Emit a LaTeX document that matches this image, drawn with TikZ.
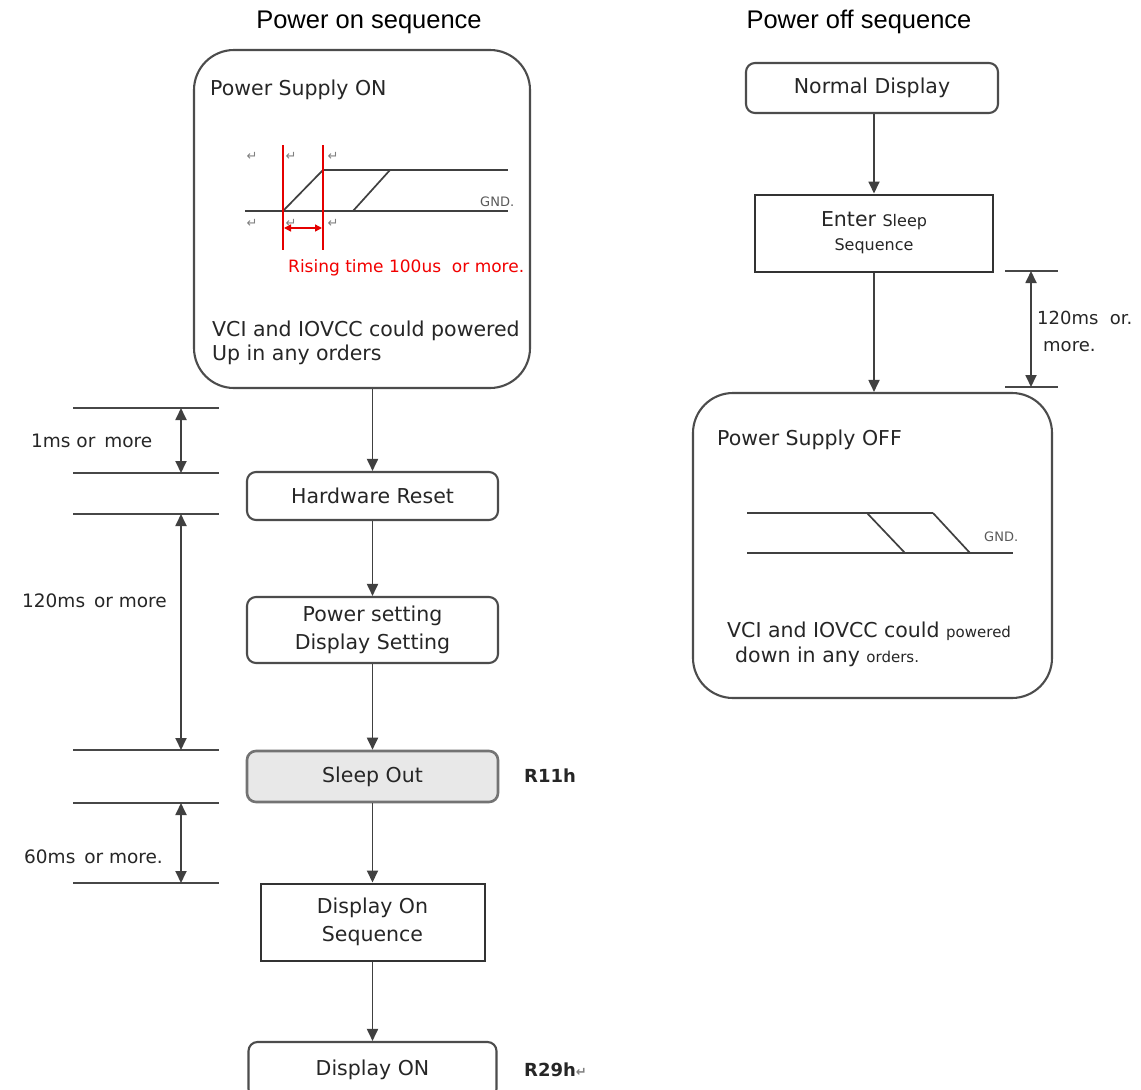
\documentclass[tikz,border=0pt]{standalone}
\usepackage{fontspec}
\setmainfont{DejaVu Sans}
\newfontfamily\titlefont{Liberation Sans}
\usetikzlibrary{arrows.meta}
\newcommand\retmark{{\color{black!50}\fontsize{13}{13}\selectfont ↵}}
\begin{document}
\begin{tikzpicture}[x=1pt,y=-1pt,
  ln/.style={draw=black!72, line width=1.8pt},
  wave/.style={draw=black!75, line width=1.7pt},
  redln/.style={draw=red!90!black, line width=1.6pt},
  box/.style={draw=black!70, line width=2.1pt, rounded corners=9pt, align=center,
    text=black!85, inner sep=0pt, font=\fontsize{20.5}{28}\selectfont},
  sqbox/.style={draw=black!80, line width=2pt, align=center,
    text=black!85, inner sep=0pt, font=\fontsize{20.5}{28}\selectfont},
  bigbox/.style={draw=black!70, line width=2.1pt, rounded corners=40pt, inner sep=0pt},
  arr/.style={draw=black!75, line width=1.8pt, -{Triangle[length=12pt,width=11pt]}},
  dbl/.style={draw=black!75, line width=1.8pt,
    {Triangle[length=12pt,width=11pt]}-{Triangle[length=12pt,width=11pt]}},
  lbl/.style={anchor=west, inner sep=0pt, text=black!85, font=\fontsize{20.5}{24}\selectfont},
  dlbl/.style={anchor=west, inner sep=0pt, text=black!85, font=\fontsize{18.5}{22}\selectfont},
  ttl/.style={inner sep=0pt, text=black, font=\titlefont\fontsize{25.5}{30}\selectfont},
  rlbl/.style={anchor=west, inner sep=0pt, text=black!85, font=\bfseries\fontsize{18}{22}\selectfont},
  gnd/.style={anchor=west, inner sep=0pt, text=black!65, font=\fontsize{13}{15}\selectfont},
  ret/.style={inner sep=0pt}
]
\clip (0,0) rectangle (1141,1090);
\fill[white] (0,0) rectangle (1141,1090);

% titles
\node[ttl] (t1) at (369,22) {Power on sequence};
\node[ttl] (t2) at (859,22) {Power off sequence};

% ---------------- power on ----------------
\node[bigbox, minimum width=336pt, minimum height=338pt] (pson) at (362,219) {};
\node[lbl] (psont) at (210,90) {Power Supply ON};
\draw[wave] (323,170) -- (508,170);
\draw[wave] (245,211) -- (508,211);
\draw[wave] (283,211) -- (323,170);
\draw[wave] (353,211) -- (390,170);
\draw[redln] (283,145) -- (283,250);
\draw[redln] (323,145) -- (323,250);
\draw[redln, line width=1.4pt, {Triangle[length=7pt,width=7pt]}-{Triangle[length=7pt,width=7pt]}] (284,228) -- (322,228);
\node[gnd] (gnd1) at (480,202) {GND.};
\node[ret] (r1) at (252,156) {\retmark};
\node[ret] (r2) at (291,156) {\retmark};
\node[ret] (r3) at (333,156) {\retmark};
\node[ret] (r4) at (252,223) {\retmark};
\node[ret] (r5) at (291,223) {\retmark};
\node[ret] (r6) at (333,223) {\retmark};
\node[lbl, text=red!95!black, font=\fontsize{17}{20}\selectfont] (rise) at (288,268) {Rising time 100us\ \ or more.};
\node[lbl] (vci1) at (212,331) {VCI and IOVCC could powered};
\node[lbl] (vci2) at (212,355) {Up in any orders};

\node[box, minimum width=251pt, minimum height=48pt] (hr) at (372.5,496) {Hardware Reset};
\node[box, minimum width=251pt, minimum height=66pt] (pwr) at (372.5,630) {Power setting\\Display Setting};
\node[box, fill=black!9, draw=black!55, line width=2.6pt, minimum width=251pt, minimum height=51pt] (so) at (372.5,776.5) {Sleep Out};
\node[sqbox, minimum width=224pt, minimum height=77pt] (dos) at (372.5,922) {Display On\\Sequence};
\node[box, minimum width=248pt, minimum height=56pt] (don) at (372.5,1070) {Display ON};
\node[rlbl] (r11) at (524,776) {R11h};
\node[rlbl] (r29) at (524,1070) {R29h\retmark};

\draw[arr] (pson.south -| hr.north) -- (hr.north);
\draw[arr] (hr.south) -- (pwr.north);
\draw[arr] (pwr.south) -- (so.north);
\draw[arr] (so.south) -- (dos.north);
\draw[arr] (dos.south) -- (don.north);

% left dimensions
\foreach \yy in {408,473,514,750,803,883} { \draw[ln] (73,\yy) -- (219,\yy); }
\coordinate (a1) at (181,408); \coordinate (a2) at (181,473);
\coordinate (a3) at (181,514); \coordinate (a4) at (181,750);
\coordinate (a5) at (181,803); \coordinate (a6) at (181,883);
\draw[dbl] (a1) -- (a2);
\draw[dbl] (a3) -- (a4);
\draw[dbl] (a5) -- (a6);
\node[dlbl] (d1) at (31,441) {1ms or\hspace{3pt} more};
\node[dlbl] (d2) at (22,601) {120ms\hspace{3pt} or more};
\node[dlbl] (d3) at (24,857) {60ms\hspace{3pt} or more.};

% ---------------- power off ----------------
\node[box, minimum width=252pt, minimum height=50pt] (nd) at (872,88) {Normal Display};
\node[sqbox, minimum width=238pt, minimum height=77pt] (es) at (874,233)
  {Enter {\fontsize{16}{20}\selectfont Sleep}\\[-4pt]{\fontsize{16}{20}\selectfont Sequence}};
\node[bigbox, minimum width=359pt, minimum height=305pt] (psoff) at (872.5,545.5) {};
\draw[arr] (nd.south -| es.north) -- (es.north);
\draw[arr] (es.south) -- (es.south |- psoff.north);

\node[lbl] (psofft) at (717,440) {Power Supply OFF};
\draw[wave] (747,513) -- (933,513);
\draw[wave] (747,553) -- (1013,553);
\draw[wave] (867,513) -- (905,553);
\draw[wave] (933,513) -- (970,553);
\node[gnd] (gnd2) at (984,537) {GND.};
\node[lbl] (vci3) at (727,631) {VCI and IOVCC could {\fontsize{15}{18}\selectfont powered}};
\node[lbl] (vci4) at (735,657) {down in any {\fontsize{15}{18}\selectfont orders.}};

\draw[ln] (1005,271) -- (1058,271);
\draw[ln] (1005,387) -- (1058,387);
\coordinate (b1) at (1031,271); \coordinate (b2) at (1031,387);
\draw[dbl] (b1) -- (b2);
\node[lbl, font=\fontsize{18}{22}\selectfont] (d4) at (1037,318) {120ms\ \ or.};
\node[lbl, font=\fontsize{18}{22}\selectfont] (d5) at (1043,347) {more.};
\end{tikzpicture}
\end{document}
